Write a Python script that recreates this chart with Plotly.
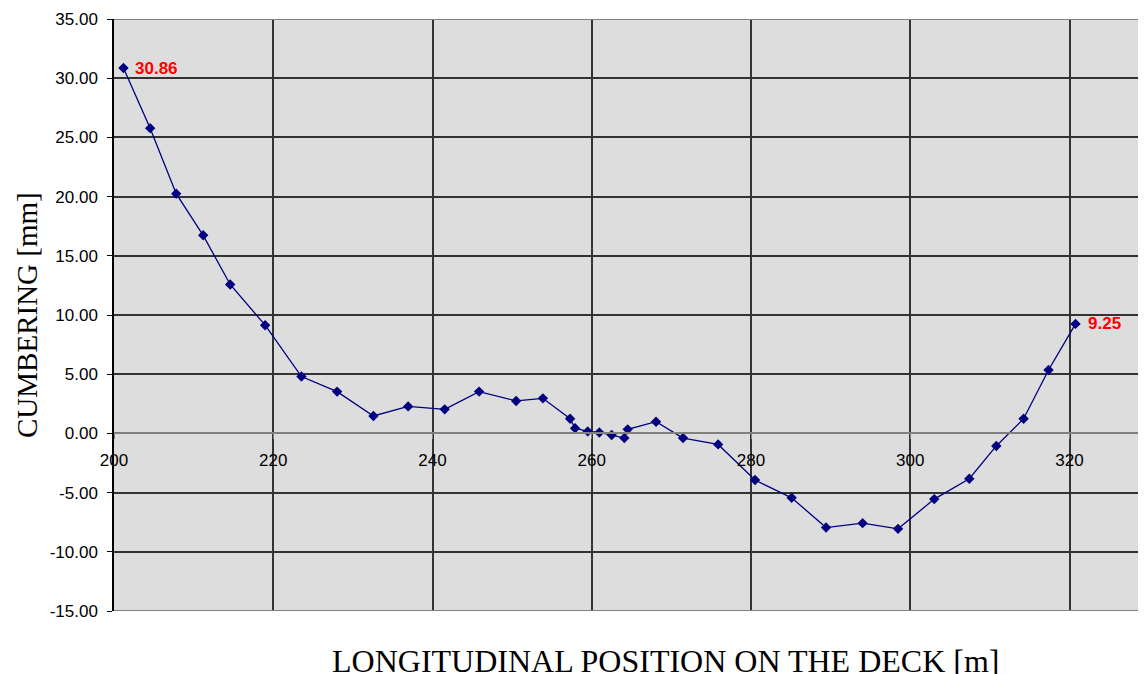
import plotly.graph_objects as go

# Datos: posición longitudinal [m] y contraflecha [mm]
posicion = [201.19, 204.54, 207.81, 211.20, 214.59, 218.98, 223.54, 228.02,
            232.58, 236.94, 241.53, 245.85, 250.50, 253.86, 257.28, 257.90,
            259.49, 260.95, 262.50, 264.09, 264.51, 268.07, 271.46, 275.87,
            280.50, 285.10, 289.42, 294.01, 298.46, 303.01, 307.41, 310.80,
            314.23, 317.36, 320.75]
cumbering = [30.86, 25.78, 20.25, 16.73, 12.58, 9.14, 4.80, 3.53,
             1.47, 2.28, 2.03, 3.53, 2.74, 2.96, 1.24, 0.44,
             0.17, 0.08, -0.14, -0.39, 0.34, 0.99, -0.39, -0.93,
             -3.94, -5.44, -7.95, -7.58, -8.06, -5.55, -3.83, -1.06,
             1.24, 5.36, 9.25]

x_ticks = [200, 220, 240, 260, 280, 300, 320]
y_ticks = [-15, -10, -5, 0, 5, 10, 15, 20, 25, 30, 35]

colors = {
    'plot_bg': '#DDDDDD',
    'paper': '#FFFFFF',
    'line': '#000080',
    'grid': '#333333',
    'border': '#808080',
    'label': '#FF0000',
}

fig = go.Figure()

fig.add_trace(go.Scatter(
    x=posicion,
    y=cumbering,
    mode='lines+markers',
    line=dict(color=colors['line'], width=1.3),
    marker=dict(symbol='diamond', size=8, color=colors['line']),
    showlegend=False,
))

# Etiquetas de los extremos (primer y último punto)
for i in (0, -1):
    fig.add_annotation(
        x=posicion[i], y=cumbering[i],
        text=f"<b>{cumbering[i]:.2f}</b>",
        showarrow=False, xanchor='left', yanchor='middle', xshift=10,
        font=dict(family='Liberation Sans, Arial', size=17, color=colors['label']),
    )

# Bordes superior e inferior del área de trazado
for yv in (y_ticks[0], y_ticks[-1]):
    fig.add_shape(type='line', xref='paper', yref='y', x0=0, x1=1, y0=yv, y1=yv,
                  line=dict(color=colors['border'], width=2), layer='above')

# Títulos de ejes como anotaciones (posición fuera del centro, como en el original)
fig.add_annotation(
    text='LONGITUDINAL POSITION ON THE DECK [m]',
    xref='paper', yref='paper', x=(665 - 114) / 1032, y=-0.085,
    xanchor='center', yanchor='middle', showarrow=False,
    font=dict(family='Liberation Serif, Times New Roman', size=32, color='black'),
)
fig.add_annotation(
    text='CUMBERING [mm]',
    xref='paper', yref='paper', x=(27 - 114) / 1032, y=0.5,
    xanchor='center', yanchor='middle', textangle=-90, showarrow=False,
    font=dict(family='Liberation Serif, Times New Roman', size=29, color='black'),
)

# El body de la página tiene 8 px de margen: se compensa en tamaño y márgenes
fig.update_layout(
    width=1138, height=666,
    margin=dict(l=106, r=0, t=11, b=63),
    plot_bgcolor=colors['plot_bg'],
    paper_bgcolor=colors['paper'],
    font=dict(family='Liberation Sans, Arial', size=17, color='black'),
    showlegend=False,
)

fig.update_xaxes(
    range=[200, 329.6],
    tickvals=x_ticks,
    ticktext=[str(v) for v in x_ticks],
    showgrid=True, gridcolor=colors['grid'], gridwidth=1.5,
    zeroline=False,
    showline=True, linecolor=colors['border'], linewidth=2,
    anchor='free', position=0.3,
    ticks='outside', ticklen=5, tickcolor=colors['border'],
    ticklabelstandoff=6,
)

fig.update_yaxes(
    range=[-15, 35],
    tickvals=y_ticks,
    ticktext=[f"{v:.2f}" for v in y_ticks],
    showgrid=True, gridcolor=colors['grid'], gridwidth=1.5,
    zeroline=False,
    showline=True, linecolor='black', linewidth=1.5,
    ticks='outside', ticklen=5, tickcolor='black',
    ticklabelstandoff=6,
)

fig.write_html("out.html")
